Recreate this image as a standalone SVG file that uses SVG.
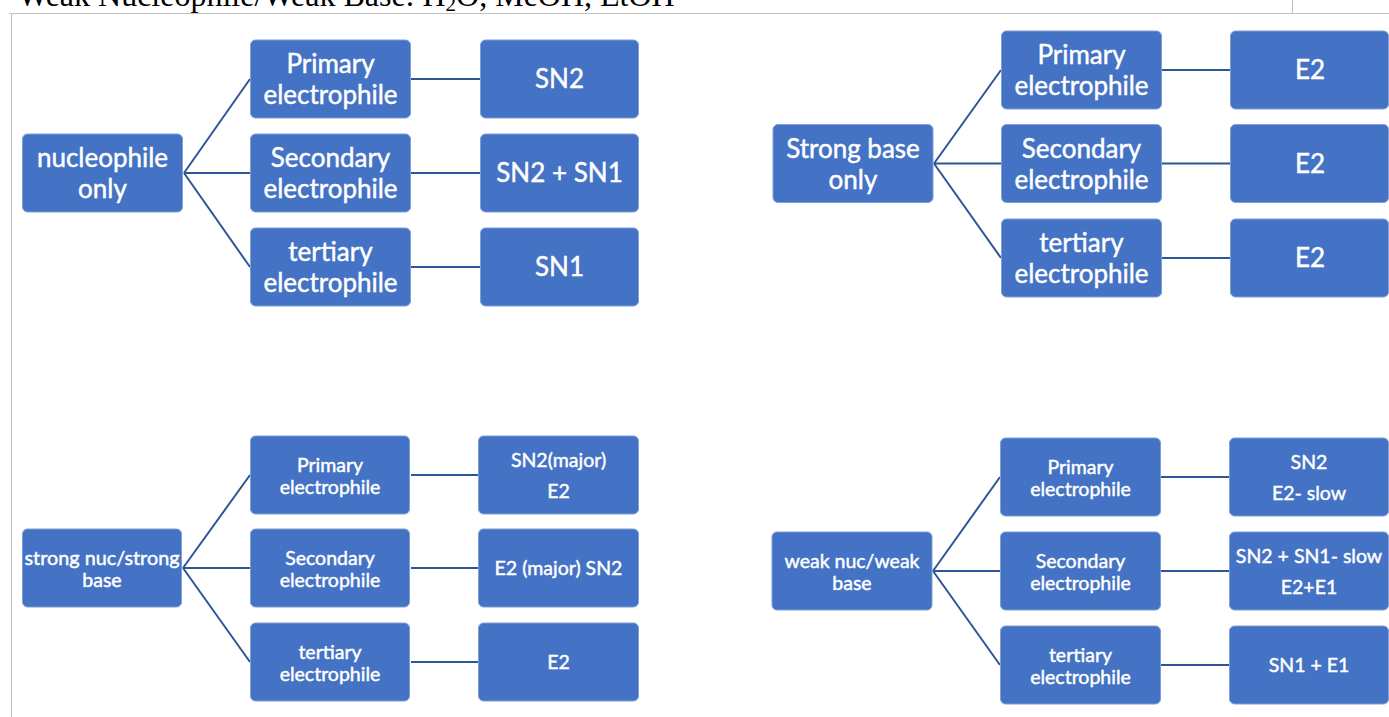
<svg xmlns="http://www.w3.org/2000/svg" width="1389" height="717" viewBox="0 0 1389 717">
<style>
.bx{fill:#4472C4;stroke:#7f9fd6;stroke-width:1}
.t{fill:#ffffff;stroke:#ffffff;stroke-width:0.45;font-family:Lato,"Noto Sans",sans-serif;text-anchor:middle}
.L{font-size:26px}
.S{font-size:19.5px}
.c{stroke:#2F5597;stroke-width:2;fill:none}
.fr{stroke:#c0c0c0;stroke-width:1;fill:none}
</style>
<rect width="1389" height="717" fill="#ffffff"/>
<text x="18" y="6" font-family="Liberation Serif,serif" font-size="32" fill="#000">Weak Nucleophile/Weak Base: H<tspan font-size="21" dy="5">2</tspan><tspan dy="-5">O, MeOH, EtOH</tspan></text>
<g id="frame">
<path class="fr" d="M9 13.5H1389M11.5 13.5V717M1292.5 0V13.5"/>
</g>
<g id="connectors">
<path class="c" d="M184 173L250 79M184 173H250M184 173L250 267M411 79H480M411 173H480M411 267H480"/>
<path class="c" d="M934 163.5L1001 70M934 163.5H1001M934 163.5L1001 258M1162 70H1230M1162 163.5H1230M1162 258H1230"/>
<path class="c" d="M183 568L250 475M183 568H250M183 568L250 662M411 475H478M411 568H478M411 662H478"/>
<path class="c" d="M933 571L1000 477M933 571H1000M933 571L1000 665M1161 477H1229M1161 571H1229M1161 665H1229"/>
</g>
<g id="n1"><rect class="bx" x="22.5" y="134" width="160" height="78" rx="5"/><text class="t L" x="102.5" y="167">nucleophile</text><text class="t L" x="102.5" y="198">only</text></g>
<g id="n1a"><rect class="bx" x="250.5" y="40" width="160" height="78" rx="5"/><text class="t L" x="330.5" y="73">Primary</text><text class="t L" x="330.5" y="104">electrophile</text></g>
<g id="n1b"><rect class="bx" x="250.5" y="134" width="160" height="78" rx="5"/><text class="t L" x="330.5" y="167">Secondary</text><text class="t L" x="330.5" y="198">electrophile</text></g>
<g id="n1c"><rect class="bx" x="250.5" y="228" width="160" height="78" rx="5"/><text class="t L" x="330.5" y="261">tertiary</text><text class="t L" x="330.5" y="292">electrophile</text></g>
<g id="r1a"><rect class="bx" x="480.5" y="40" width="158" height="78" rx="5"/><text class="t L" x="559.5" y="88">SN2</text></g>
<g id="r1b"><rect class="bx" x="480.5" y="134" width="158" height="78" rx="5"/><text class="t L" x="559.5" y="182">SN2 + SN1</text></g>
<g id="r1c"><rect class="bx" x="480.5" y="228" width="158" height="78" rx="5"/><text class="t L" x="559.5" y="276">SN1</text></g>

<g id="n2"><rect class="bx" x="773" y="124.5" width="160" height="78" rx="5"/><text class="t L" x="853" y="157.5">Strong base</text><text class="t L" x="853" y="188.5">only</text></g>
<g id="n2a"><rect class="bx" x="1001.5" y="31" width="160" height="78" rx="5"/><text class="t L" x="1081.5" y="64">Primary</text><text class="t L" x="1081.5" y="95">electrophile</text></g>
<g id="n2b"><rect class="bx" x="1001.5" y="124.5" width="160" height="78" rx="5"/><text class="t L" x="1081.5" y="157.5">Secondary</text><text class="t L" x="1081.5" y="188.5">electrophile</text></g>
<g id="n2c"><rect class="bx" x="1001.5" y="219" width="160" height="78" rx="5"/><text class="t L" x="1081.5" y="252">tertiary</text><text class="t L" x="1081.5" y="283">electrophile</text></g>
<g id="r2a"><rect class="bx" x="1230.5" y="31" width="158" height="78" rx="5"/><text class="t L" x="1310" y="79">E2</text></g>
<g id="r2b"><rect class="bx" x="1230.5" y="124.5" width="158" height="78" rx="5"/><text class="t L" x="1310" y="172.5">E2</text></g>
<g id="r2c"><rect class="bx" x="1230.5" y="219" width="158" height="78" rx="5"/><text class="t L" x="1310" y="267">E2</text></g>

<g id="n3"><rect class="bx" x="22.5" y="529" width="159" height="78" rx="5"/><text class="t S" x="102" y="564.5" textLength="155" lengthAdjust="spacingAndGlyphs">strong nuc/strong</text><text class="t S" x="102" y="586.5">base</text></g>
<g id="n3a"><rect class="bx" x="250.5" y="436" width="159" height="78" rx="5"/><text class="t S" x="330" y="471.5">Primary</text><text class="t S" x="330" y="493.5">electrophile</text></g>
<g id="n3b"><rect class="bx" x="250.5" y="529" width="159" height="78" rx="5"/><text class="t S" x="330" y="564.5">Secondary</text><text class="t S" x="330" y="586.5">electrophile</text></g>
<g id="n3c"><rect class="bx" x="250.5" y="623" width="159" height="78" rx="5"/><text class="t S" x="330" y="658.5">tertiary</text><text class="t S" x="330" y="680.5">electrophile</text></g>
<g id="r3a"><rect class="bx" x="478.5" y="436" width="160" height="78" rx="5"/><text class="t S" x="558.5" y="467">SN2(major)</text><text class="t S" x="558.5" y="498">E2</text></g>
<g id="r3b"><rect class="bx" x="478.5" y="529" width="160" height="78" rx="5"/><text class="t S" x="558.5" y="575">E2 (major) SN2</text></g>
<g id="r3c"><rect class="bx" x="478.5" y="623" width="160" height="78" rx="5"/><text class="t S" x="558.5" y="669">E2</text></g>

<g id="n4"><rect class="bx" x="772" y="532" width="160" height="78" rx="5"/><text class="t S" x="852" y="567.5">weak nuc/weak</text><text class="t S" x="852" y="589.5">base</text></g>
<g id="n4a"><rect class="bx" x="1000.5" y="438" width="160" height="78" rx="5"/><text class="t S" x="1080.5" y="473.5">Primary</text><text class="t S" x="1080.5" y="495.5">electrophile</text></g>
<g id="n4b"><rect class="bx" x="1000.5" y="532" width="160" height="78" rx="5"/><text class="t S" x="1080.5" y="567.5">Secondary</text><text class="t S" x="1080.5" y="589.5">electrophile</text></g>
<g id="n4c"><rect class="bx" x="1000.5" y="626" width="160" height="78" rx="5"/><text class="t S" x="1080.5" y="661.5">tertiary</text><text class="t S" x="1080.5" y="683.5">electrophile</text></g>
<g id="r4a"><rect class="bx" x="1229.5" y="438" width="159" height="78" rx="5"/><text class="t S" x="1309" y="469">SN2</text><text class="t S" x="1309" y="500">E2- slow</text></g>
<g id="r4b"><rect class="bx" x="1229.5" y="532" width="159" height="78" rx="5"/><text class="t S" x="1309" y="562.5">SN2 + SN1- slow</text><text class="t S" x="1309" y="593.5">E2+E1</text></g>
<g id="r4c"><rect class="bx" x="1229.5" y="626" width="159" height="78" rx="5"/><text class="t S" x="1309" y="672">SN1 + E1</text></g>
</svg>
